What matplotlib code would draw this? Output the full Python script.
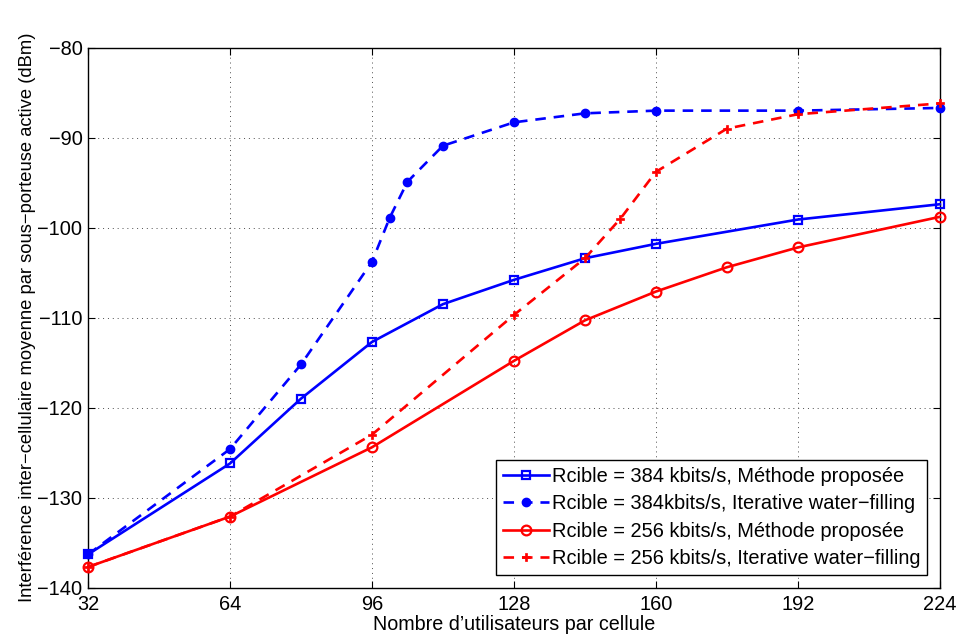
import numpy as np
import matplotlib.pyplot as plt

plt.rcParams['font.family'] = ['Liberation Sans', 'DejaVu Sans']

# Nombre d'utilisateurs par cellule
x_prop_384 = [32, 64, 80, 96, 112, 128, 144, 160, 192, 224]
y_prop_384 = [-136.3, -126.2, -119.0, -112.7, -108.5, -105.8, -103.4, -101.8, -99.1, -97.4]

x_iwf_384 = [32, 64, 80, 96, 100, 104, 112, 128, 144, 160, 192, 224]
y_iwf_384 = [-136.3, -124.6, -115.2, -103.8, -98.9, -94.9, -90.9, -88.3, -87.3, -87.0, -87.0, -86.7]

x_prop_256 = [32, 64, 96, 128, 144, 160, 176, 192, 224]
y_prop_256 = [-137.7, -132.1, -124.4, -114.8, -110.3, -107.1, -104.4, -102.2, -98.8]

x_iwf_256 = [32, 64, 96, 128, 144, 152, 160, 176, 192, 224]
y_iwf_256 = [-137.7, -132.1, -123.0, -109.7, -103.4, -99.0, -93.8, -89.0, -87.4, -86.2]

labels = ['Rcible = 384 kbits/s, Méthode proposée',
          'Rcible = 384kbits/s, Iterative water\u2212filling',
          'Rcible = 256 kbits/s, Méthode proposée',
          'Rcible = 256 kbits/s, Iterative water\u2212filling']

fig = plt.figure(figsize=(9.62, 6.35), dpi=100)
ax = fig.add_axes([0.0915, 0.0745, 0.8855, 0.8505])

lw = 1.9
ax.plot(x_prop_384, y_prop_384, '-s', color='blue', lw=lw, ms=6, mfc='none', mew=1.6,
        clip_on=False, zorder=3, label=labels[0])
ax.plot(x_iwf_384, y_iwf_384, '--o', color='blue', lw=lw, ms=6, mew=1.0, dashes=(4, 3),
        clip_on=False, zorder=3, label=labels[1])
ax.plot(x_prop_256, y_prop_256, '-o', color='red', lw=lw, ms=7, mfc='none', mew=1.6,
        clip_on=False, zorder=3, label=labels[2])
ax.plot(x_iwf_256, y_iwf_256, '--P', color='red', lw=lw, ms=6, mew=0.5, dashes=(4, 3),
        clip_on=False, zorder=3, label=labels[3])

ax.set_xlim(32, 224)
ax.set_ylim(-140, -80)
ax.set_xticks(np.arange(32, 225, 32))
ax.set_yticks(np.arange(-140, -79, 10))
ax.tick_params(direction='in', top=True, right=True, labelsize=14.4, length=5)
ax.tick_params(axis='x', pad=5)
ax.tick_params(axis='y', pad=4)
ax.grid(True, linestyle=(0, (1, 4)), color='0.3', linewidth=0.7)
for s in ax.spines.values():
    s.set_linewidth(1.0)

ax.set_xlabel("Nombre d\u2019utilisateurs par cellule", fontsize=14.2, labelpad=1)
ax.set_ylabel('Interférence inter\u2212cellulaire moyenne par sous\u2212porteuse active (dBm)',
              fontsize=13.2, labelpad=1)

leg = ax.legend(loc='lower right', fontsize=14.4, fancybox=False, framealpha=1,
                edgecolor='black', handlelength=2.3, handletextpad=0.15,
                borderpad=0.35, labelspacing=0.42, borderaxespad=0,
                bbox_to_anchor=(0.985, 0.023))
leg.get_frame().set_linewidth(1.0)

fig.savefig('out.png', dpi=100)
